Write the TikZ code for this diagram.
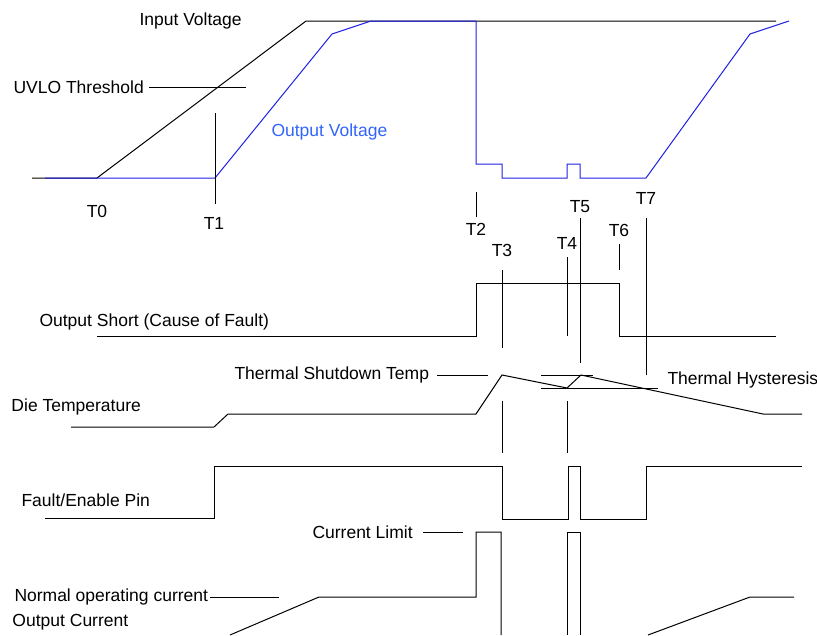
\documentclass[tikz,border=0pt]{standalone}
\usepackage{fontspec}
\setmainfont{Liberation Sans}
\definecolor{voutblue}{RGB}{30,30,230}
\definecolor{vlabblue}{RGB}{50,100,250}

\begin{document}
\begin{tikzpicture}[x=1pt,y=-1pt,line width=1pt,
  every node/.style={font=\fontsize{17.5}{20}\selectfont,inner sep=0pt}]
\useasboundingbox (0,0) rectangle (817,635);
%[labels]
\path (139,21) node (vin) [anchor=west] {Input Voltage};
\path (13,87) node (uvlo) [anchor=west] {UVLO Threshold};
\path (271,132) node (vout) [anchor=west,text=vlabblue] {Output Voltage};
\path (97,211) node (t0) {T0};
\path (214,223) node (t1) {T1};
\path (476,229) node (t2) {T2};
\path (502,250) node (t3) {T3};
\path (567,243) node (t4) {T4};
\path (580,207) node (t5) {T5};
\path (619,230) node (t6) {T6};
\path (646,198) node (t7) {T7};
\path (39,322) node (short) [anchor=west] {Output Short (Cause of Fault)};
\path (234,375) node (tsd) [anchor=west] {Thermal Shutdown Temp};
\path (667,380) node (thys) [anchor=west] {Thermal Hysteresis};
\path (11,407) node (tdie) [anchor=west] {Die Temperature};
\path (21,500) node (fault) [anchor=west] {Fault/Enable Pin};
\path (312,532) node (ilim) [anchor=west] {Current Limit};
\path (14,597) node (inorm) [anchor=west] {Normal operating current};
\path (12,622) node (iout) [anchor=west] {Output Current};

%[voltages]
\draw (32,178) -- (97,178) -- (306,21) -- (776,21);
\draw [voutblue] (45,178) -- (215,178) -- (332,34) -- (371,21) -- (476,21)
  -- (476,164) -- (502,164) -- (502,178) -- (567,178) -- (567,164)
  -- (580,164) -- (580,178) -- (646,178) -- (750,34) -- (789,21);
\draw (149,87) -- (246,87);

%[time marks]
\draw (215,113) -- (215,204);
\draw (476,192) -- (476,217);
\draw (502,270) -- (502,348);
\draw (502,401) -- (502,453);
\draw (567,257) -- (567,336);
\draw (567,401) -- (567,453);
\draw (580,218) -- (580,363);
\draw (619,244) -- (619,270);
\draw (646,218) -- (646,375);

%[short, temperature, fault, current]
\draw (97,336) -- (476,336) -- (476,283) -- (619,283) -- (619,336) -- (776,336);
\draw (71,427) -- (214,427) -- (228,414) -- (476,414) -- (502,375) -- (567,388)
  -- (581,375) -- (763,414) -- (802,414);
\draw (437,375) -- (488,375);
\draw (541,375) -- (593,375);
\draw (541,388) -- (658,388);
\draw (45,518) -- (214,518) -- (214,466) -- (502,466) -- (502,519) -- (568,519)
  -- (568,466) -- (580,466) -- (580,519) -- (646,519) -- (646,466) -- (802,466);
\draw (423,532) -- (463,532);
\draw (210,597) -- (279,597);
\draw (230,635) -- (319,597) -- (476,597) -- (476,532) -- (501,532) -- (501,635);
\draw (567,635) -- (567,532) -- (580,532) -- (580,635);
\draw (648,635) -- (750,597) -- (794,597);
\end{tikzpicture}
\end{document}
